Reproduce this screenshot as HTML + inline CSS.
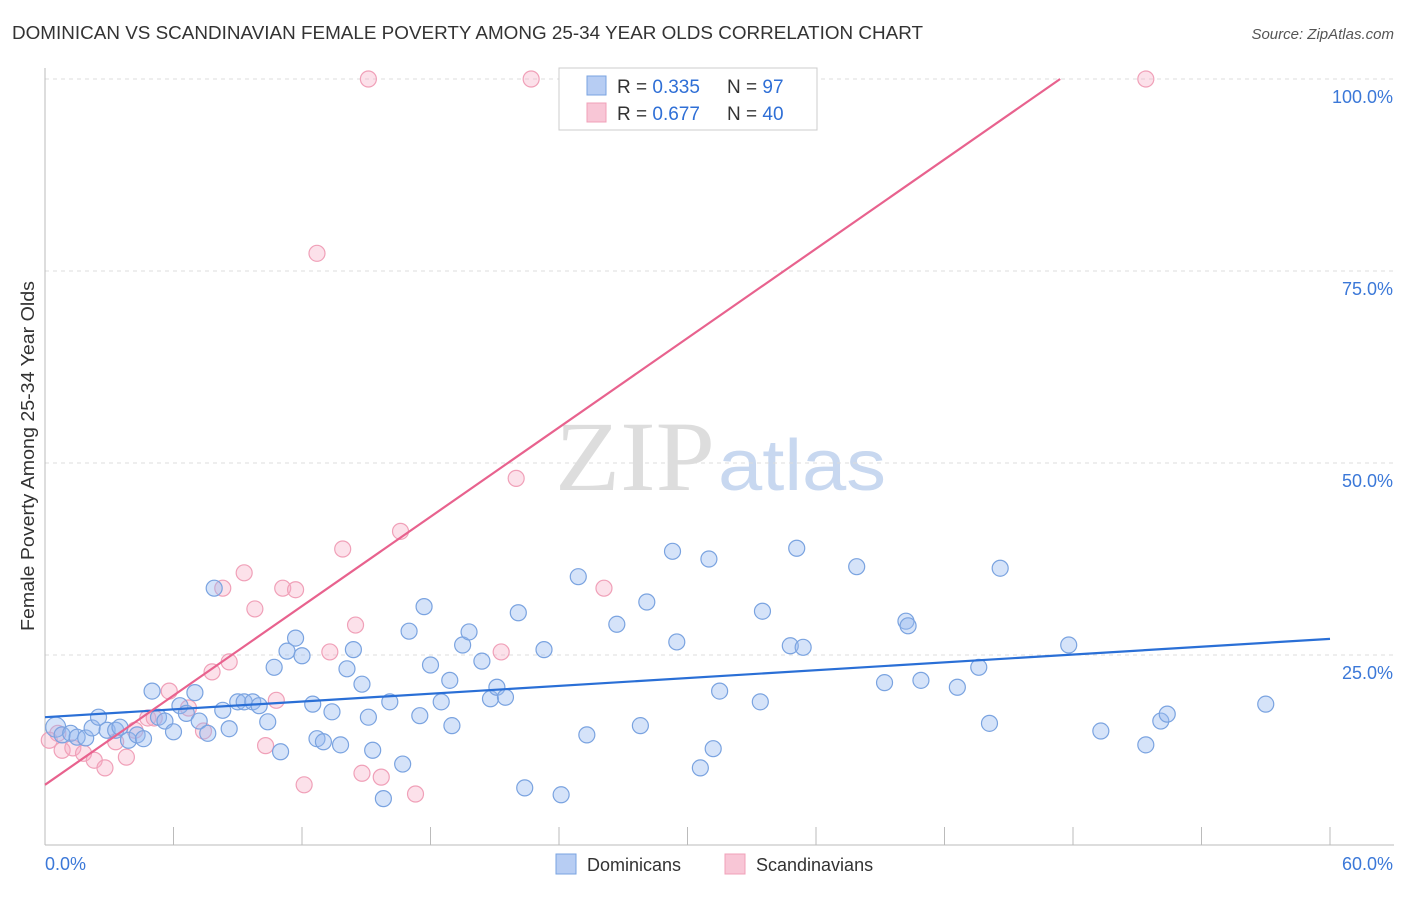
<!DOCTYPE html>
<html><head><meta charset="utf-8"><style>
body{margin:0;background:#fff;font-family:"Liberation Sans",sans-serif}
</style></head><body>
<svg id="chart" width="1406" height="892" xmlns="http://www.w3.org/2000/svg">
<text x="12" y="39" font-size="18" fill="#333" textLength="911" lengthAdjust="spacingAndGlyphs">DOMINICAN VS SCANDINAVIAN FEMALE POVERTY AMONG 25-34 YEAR OLDS CORRELATION CHART</text>
<text x="1394" y="39" font-size="15" fill="#555" font-style="italic" text-anchor="end">Source: ZipAtlas.com</text>
<text x="555" y="490" font-size="100" fill="#ddd" font-family="Liberation Serif,serif" textLength="160" lengthAdjust="spacingAndGlyphs">ZIP</text>
<text x="718" y="490" font-size="72" fill="#c8d8f0" textLength="168" lengthAdjust="spacingAndGlyphs">atlas</text>
<text transform="translate(34,456) rotate(-90)" font-size="18" fill="#333" text-anchor="middle" textLength="350" lengthAdjust="spacingAndGlyphs">Female Poverty Among 25-34 Year Olds</text>
<g id="grid"></g><g id="marks"></g>
<g>
<rect x="559" y="68" width="258" height="62" fill="#fff" stroke="#ccc"/>
<rect x="587" y="76" width="19" height="19" fill="#b7cdf3" stroke="#7aa3e0"/>
<rect x="587" y="103" width="19" height="19" fill="#f8c6d6" stroke="#f0a0b8"/>
<text x="617" y="93" font-size="19" fill="#333">R = <tspan fill="#2f6fd6">0.335</tspan><tspan x="727">N = </tspan><tspan fill="#2f6fd6">97</tspan></text>
<text x="617" y="120" font-size="19" fill="#333">R = <tspan fill="#2f6fd6">0.677</tspan><tspan x="727">N = </tspan><tspan fill="#2f6fd6">40</tspan></text>
</g>
<g>
<rect x="556" y="854" width="20" height="20" fill="#b7cdf3" stroke="#7aa3e0"/>
<text x="587" y="871" font-size="18" fill="#333">Dominicans</text>
<rect x="725" y="854" width="20" height="20" fill="#f8c6d6" stroke="#f0a0b8"/>
<text x="756" y="871" font-size="18" fill="#333">Scandinavians</text>
</g>
</svg>
<script>
const yTicks=[25,50,75,100];
const yTickLabels=["25.0%","50.0%","75.0%","100.0%"];
const xTickCount=10;
const blueX=[0.5,0.8,1.2,1.5,1.9,2.2,2.5,2.9,3.3,3.5,3.9,4.3,4.6,5.0,5.3,5.6,6.0,6.3,6.6,7.0,7.2,7.6,7.9,8.3,8.6,9.0,9.3,9.7,10.0,10.4,10.7,11.0,11.3,11.7,12.0,12.5,12.7,13.0,13.4,13.8,14.1,14.4,14.8,15.1,15.3,15.8,16.1,16.7,17.0,17.5,17.7,18.0,18.5,18.9,19.0,19.5,19.8,20.4,20.8,21.1,21.5,22.1,22.4,23.3,24.1,24.9,25.3,26.7,27.8,28.1,29.3,29.5,30.6,31.0,31.2,31.5,33.4,33.5,34.8,35.1,35.4,37.9,39.2,40.2,40.3,40.9,42.6,43.6,44.1,44.6,47.8,49.3,51.4,52.1,52.4,57.0];
const blueY=[15.6,14.6,14.8,14.3,14.2,15.5,16.9,15.2,15.2,15.6,13.9,14.6,14.1,20.3,16.9,16.4,15.0,18.4,17.4,20.1,16.4,14.8,33.7,17.8,15.4,18.9,18.9,18.9,18.4,16.3,23.4,12.4,25.5,27.2,24.9,18.6,14.1,13.7,17.6,13.3,23.2,25.7,21.2,16.9,12.6,6.3,18.9,10.8,28.1,17.1,31.3,23.7,18.9,21.7,15.8,26.3,28.0,24.2,19.3,20.8,19.5,30.5,7.7,25.7,6.8,35.2,14.6,29.0,15.8,31.9,38.5,26.7,10.3,37.5,12.8,20.3,18.9,30.7,26.2,38.9,26.0,36.5,21.4,29.4,28.8,21.7,20.8,23.4,16.1,36.3,26.3,15.1,13.3,16.4,17.3,18.6];
const pinkX=[0.2,0.6,0.8,1.3,1.8,2.3,2.8,3.3,3.8,4.2,4.8,5.1,5.8,6.7,7.4,7.8,8.3,8.6,9.3,9.8,10.3,10.8,11.1,11.7,12.1,12.7,13.3,13.9,14.5,14.8,15.1,15.7,16.6,17.3,21.3,22.0,22.7,26.1,51.4];
const pinkY=[13.9,14.8,12.6,12.9,12.2,11.3,10.3,13.7,11.7,15.2,16.8,16.8,20.3,18.1,15.1,22.8,33.7,24.1,35.7,31.0,13.2,19.1,33.7,33.5,8.1,77.3,25.4,38.8,28.9,9.6,100,9.1,41.1,6.9,25.4,48.0,100,33.7,100];
const blueLine=[16.9,27.1];
const pinkLine=[8.1,100,47.4];
const NS="http://www.w3.org/2000/svg";
const xs=v=>45+v*(1285/60), ys=v=>847-v*7.68;
function mk(tag,attrs,parent){const e=document.createElementNS(NS,tag);for(const k in attrs)e.setAttribute(k,attrs[k]);parent.appendChild(e);return e;}
const grid=document.getElementById('grid'),marks=document.getElementById('marks');
yTicks.forEach((t,i)=>{
 const l=mk('line',{x1:45,x2:1394,y1:ys(t),y2:ys(t),stroke:'#ddd','stroke-dasharray':'4,4'},grid);
 
 
 const tx=mk('text',{x:1393,y:ys(t)+24,'font-size':18,fill:'#3b78d8','text-anchor':'end'},grid);
 tx.textContent=yTickLabels[i];
 
 
});
const ax=mk('line',{x1:45,x2:1394,y1:845,y2:845,stroke:'#bbb'},grid);


const ay=mk('line',{x1:45,x2:45,y1:68,y2:845,stroke:'#bbb'},grid);


for(let i=0;i<=xTickCount;i++){const x=xs(i*6);const t=mk('line',{x1:x,x2:x,y1:827,y2:845,stroke:'#bbb'},grid);
 
 }
[["0.0%",45,"start"],["60.0%",1393,"end"]].forEach(a=>{const t=mk('text',{x:a[1],y:870,'font-size':18,fill:'#3b78d8','text-anchor':a[2]},grid);t.textContent=a[0];
 
 });
pinkX.forEach((x,i)=>{const c=mk('circle',{cx:xs(x),cy:ys(pinkY[i]),r:8,fill:'rgba(245,170,195,0.35)',stroke:'#f0a0b8','stroke-width':1.2},marks);
 
 });
blueX.forEach((x,i)=>{const c=mk('circle',{cx:xs(x),cy:ys(blueY[i]),r:i==0?10:8,fill:'rgba(150,185,240,0.4)',stroke:'#7aa3e0','stroke-width':1.2},marks);
 
 });
const bl=mk('line',{x1:xs(0),y1:ys(blueLine[0]),x2:xs(60),y2:ys(blueLine[1]),stroke:'#2a6fd6','stroke-width':2.2},marks);


const pl=mk('line',{x1:xs(0),y1:ys(pinkLine[0]),x2:xs(pinkLine[2]),y2:ys(pinkLine[1]),stroke:'#e8628e','stroke-width':2.2},marks);


</script>
</body></html>
